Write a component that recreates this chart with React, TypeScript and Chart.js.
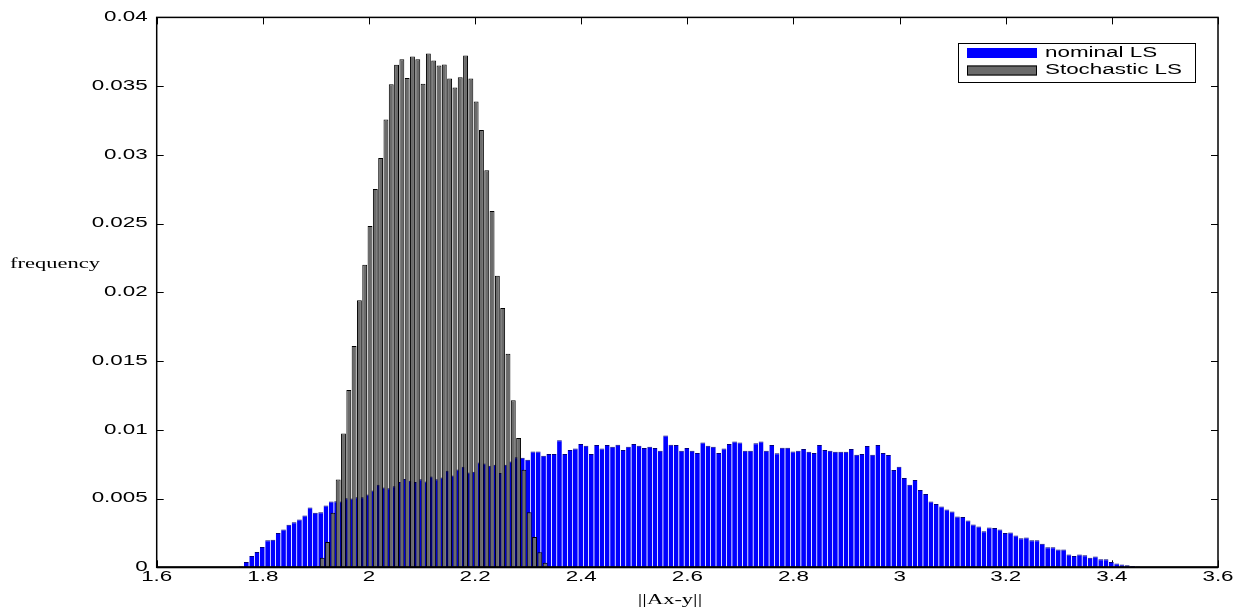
import React, { useEffect, useRef } from "react";
import { Chart, registerables } from "chart.js";

Chart.register(...registerables);

// ---- data -------------------------------------------------------------
const BIN_WIDTH = 0.01;
const NOMINAL_FIRST_BIN = 1.759;
const STOCHASTIC_FIRST_BIN = 1.902;

const NOMINAL_LS = [
  0.00005, 0.00038, 0.00082, 0.00111, 0.00147, 0.00196, 0.002, 0.00249, 0.00275, 0.00309,
  0.00328, 0.00348, 0.00377, 0.00435, 0.00396, 0.004, 0.00449, 0.00478, 0.0048, 0.00478,
  0.00502, 0.005, 0.0051, 0.0051, 0.0053, 0.00558, 0.00601, 0.0058, 0.00575, 0.0059,
  0.0062, 0.00642, 0.0063, 0.0062, 0.0064, 0.00625, 0.0066, 0.0064, 0.00654, 0.00703,
  0.00667, 0.00712, 0.00732, 0.0069, 0.00695, 0.00763, 0.00755, 0.00739, 0.00746, 0.00686,
  0.00746, 0.0077, 0.008, 0.00797, 0.00783, 0.00843, 0.00843, 0.00812, 0.00824, 0.00824,
  0.00925, 0.00824, 0.00853, 0.00865, 0.00896, 0.00884, 0.00824, 0.00889, 0.00865, 0.00889,
  0.00877, 0.00891, 0.00853, 0.00877, 0.00896, 0.00884, 0.00867, 0.00877, 0.00867, 0.00848,
  0.00959, 0.00891, 0.00889, 0.00848, 0.00867, 0.00848, 0.00831, 0.00908, 0.00884, 0.00877,
  0.00831, 0.00865, 0.00896, 0.00915, 0.00908, 0.00848, 0.00848, 0.00903, 0.00915, 0.00848,
  0.00889, 0.00829, 0.00869, 0.00869, 0.00843, 0.00848, 0.0086, 0.0084, 0.00832, 0.00889,
  0.00853, 0.00848, 0.0084, 0.0084, 0.0084, 0.0086, 0.00819, 0.00824, 0.00882, 0.00819,
  0.00889, 0.00831, 0.00817, 0.00708, 0.00732, 0.0065, 0.00601, 0.00635, 0.00563, 0.00534,
  0.00478, 0.00461, 0.00442, 0.0042, 0.00406, 0.0037, 0.00365, 0.00341, 0.00312, 0.00297,
  0.00263, 0.0029, 0.00285, 0.00275, 0.00249, 0.00253, 0.00232, 0.00212, 0.00217, 0.00196,
  0.00196, 0.00172, 0.00145, 0.00145, 0.0013, 0.0013, 0.00094, 0.00082, 0.00094, 0.00087,
  0.0007, 0.00079, 0.00058, 0.00058, 0.00038, 0.00027, 0.0002, 0.00015, 0.0001, 0.00005,
];

const STOCHASTIC_LS = [
  0.0001, 0.0007, 0.00184, 0.00396, 0.00638, 0.00974, 0.0129, 0.01609, 0.01942, 0.022,
  0.02483, 0.02751, 0.02978, 0.03258, 0.03514, 0.03655, 0.03696, 0.0356, 0.03715, 0.03696,
  0.03517, 0.03737, 0.03686, 0.0365, 0.03657, 0.03556, 0.0349, 0.03565, 0.03722, 0.03556,
  0.03389, 0.03181, 0.02889, 0.02592, 0.02121, 0.01886, 0.01553, 0.01215, 0.0094, 0.0071,
  0.004, 0.0022, 0.0011, 0.00034,
];

const SERIES_LABELS = ["nominal LS", "Stochastic LS"];
const X_TICKS = [1.6, 1.8, 2, 2.2, 2.4, 2.6, 2.8, 3, 3.2, 3.4, 3.6];
const X_TICK_LABELS = ["1.6", "1.8", "2", "2.2", "2.4", "2.6", "2.8", "3", "3.2", "3.4", "3.6"];
const Y_TICKS = [0, 0.005, 0.01, 0.015, 0.02, 0.025, 0.03, 0.035, 0.04];
const Y_TICK_LABELS = ["0", "0.005", "0.01", "0.015", "0.02", "0.025", "0.03", "0.035", "0.04"];
const X_TITLE = "||Ax-y||";
const Y_TITLE = "frequency";

// ---- styling ----------------------------------------------------------
const SANS = '"Liberation Sans", Arial, Helvetica, sans-serif';
const SERIF = '"Liberation Serif", "Times New Roman", serif';
const BLUE = "#0000ff";
const GRAY = "#6b6b6b";
const SANS_STRETCH = 1.6;
const SERIF_STRETCH = 1.5;

// The reference figure's text is horizontally stretched: widen every glyph run.
function patchStretchedText(ctx: any) {
  if (ctx.__stretchPatched) return;
  const orig = ctx.fillText;
  ctx.fillText = function (text: string, x: number, y: number, maxWidth?: number) {
    const sx = this.__sx || SANS_STRETCH;
    this.save();
    this.translate(x, y);
    this.scale(sx, 1);
    if (maxWidth !== undefined && maxWidth !== null) orig.call(this, text, 0, 0, maxWidth / sx);
    else orig.call(this, text, 0, 0);
    this.restore();
  };
  ctx.__stretchPatched = true;
}

const matlabPlugin = {
  id: "matlabLook",
  beforeDraw(chart: any) {
    patchStretchedText(chart.ctx);
    chart.ctx.__sx = SANS_STRETCH;
  },
  beforeDatasetsDraw(chart: any) {
    const { ctx, chartArea: a, scales } = chart;
    const TL = 7;
    ctx.save();
    ctx.strokeStyle = "#000";
    ctx.lineWidth = 1;
    ctx.beginPath();
    X_TICKS.forEach((v) => {
      const px = Math.round(scales.x.getPixelForValue(v)) + 0.5;
      ctx.moveTo(px, a.bottom);
      ctx.lineTo(px, a.bottom - TL);
      ctx.moveTo(px, a.top);
      ctx.lineTo(px, a.top + TL);
    });
    Y_TICKS.forEach((v) => {
      const py = Math.round(scales.y.getPixelForValue(v)) + 0.5;
      ctx.moveTo(a.left, py);
      ctx.lineTo(a.left + TL, py);
      ctx.moveTo(a.right, py);
      ctx.lineTo(a.right - TL, py);
    });
    ctx.stroke();
    ctx.restore();
  },
  afterDraw(chart: any) {
    const { ctx, chartArea: a } = chart;
    ctx.save();
    // axes box
    ctx.strokeStyle = "#000";
    ctx.lineWidth = 1.5;
    ctx.strokeRect(a.left, a.top, a.right - a.left, a.bottom - a.top);
    ctx.lineWidth = 2;
    ctx.beginPath();
    ctx.moveTo(a.left, a.bottom);
    ctx.lineTo(a.right, a.bottom);
    ctx.stroke();

    // axis titles
    ctx.fillStyle = "#000";
    ctx.font = `15px ${SERIF}`;
    ctx.__sx = SERIF_STRETCH;
    ctx.textAlign = "center";
    ctx.textBaseline = "middle";
    ctx.fillText(X_TITLE, 670, 600);
    ctx.textAlign = "left";
    ctx.fillText(Y_TITLE, 10, 264);

    // legend
    const lx = 958, ly = 43, lw = 237, lh = 39;
    ctx.fillStyle = "#fff";
    ctx.fillRect(lx, ly, lw, lh);
    ctx.lineWidth = 1;
    ctx.strokeStyle = "#000";
    ctx.strokeRect(lx + 0.5, ly + 0.5, lw, lh);
    const rows = [53, 70.5];
    ctx.__sx = SANS_STRETCH;
    chart.data.datasets.forEach((ds: any, i: number) => {
      const cy = rows[i];
      ctx.fillStyle = ds.backgroundColor;
      ctx.fillRect(967, cy - 5, 70, 10);
      if (i === 1) {
        ctx.strokeStyle = "#000";
        ctx.lineWidth = 1;
        ctx.strokeRect(967.5, cy - 4.5, 69, 9);
      }
      ctx.fillStyle = "#000";
      ctx.font = `14px ${SANS}`;
      ctx.textAlign = "left";
      ctx.textBaseline = "middle";
      ctx.fillText(ds.label, 1045, cy);
    });
    ctx.restore();
    ctx.__sx = SANS_STRETCH;
  },
};

export default function App() {
  const canvasRef = useRef<HTMLCanvasElement | null>(null);

  useEffect(() => {
    document.body.style.margin = "0";
    const canvas = canvasRef.current;
    if (!canvas) return;

    const nominal = NOMINAL_LS.map((y, i) => ({ x: NOMINAL_FIRST_BIN + i * BIN_WIDTH, y }));
    const stochastic = STOCHASTIC_LS.map((y, i) => ({ x: STOCHASTIC_FIRST_BIN + i * BIN_WIDTH, y }));

    const tickFont = { family: SANS, size: 14 };

    const chart = new Chart(canvas, {
      type: "bar",
      data: {
        datasets: [
          {
            label: SERIES_LABELS[0],
            data: nominal as any,
            xAxisID: "x",
            yAxisID: "y",
            backgroundColor: BLUE,
            borderColor: "#00007a",
            borderWidth: { top: 1, left: 0, right: 0, bottom: 0 },
            barPercentage: 0.9,
            categoryPercentage: 1,
            grouped: false,
            order: 1,
          },
          {
            label: SERIES_LABELS[1],
            data: stochastic as any,
            xAxisID: "x2",
            yAxisID: "y",
            backgroundColor: GRAY,
            borderColor: "#000",
            borderWidth: { top: 1, left: 1, right: 1, bottom: 0 },
            barPercentage: 0.92,
            categoryPercentage: 1,
            grouped: false,
            order: 0,
          },
        ],
      },
      options: {
        responsive: false,
        animation: false,
        layout: { padding: { left: 0, top: 15, right: 20, bottom: 0 } },
        plugins: { legend: { display: false }, tooltip: { enabled: false } },
        scales: {
          x: {
            type: "linear",
            position: "bottom",
            min: 1.6,
            max: 3.6,
            offset: false,
            grid: { display: false, drawTicks: false, offset: false },
            border: { display: false },
            afterBuildTicks: (s: any) => {
              s.ticks = X_TICKS.map((v) => ({ value: v }));
            },
            ticks: {
              autoSkip: false,
              maxRotation: 0,
              padding: 1,
              color: "#000",
              font: tickFont,
              callback: (_v: any, i: number) => X_TICK_LABELS[i],
            },
            afterFit: (s: any) => {
              s.height = 41.7;
            },
          },
          x2: {
            type: "linear",
            position: "bottom",
            min: 1.6,
            max: 3.6,
            offset: false,
            display: false,
            grid: { display: false, offset: false },
          },
          y: {
            type: "linear",
            min: 0,
            max: 0.04,
            stacked: false,
            grid: { display: false, drawTicks: false },
            border: { display: false },
            afterBuildTicks: (s: any) => {
              s.ticks = Y_TICKS.map((v) => ({ value: v }));
            },
            ticks: {
              padding: 9,
              color: "#000",
              font: tickFont,
              callback: (_v: any, i: number) => Y_TICK_LABELS[i],
            },
            afterFit: (s: any) => {
              s.width = 156.7;
            },
          },
        },
      } as any,
      plugins: [matlabPlugin],
    });

    return () => chart.destroy();
  }, []);

  return (
    <div style={{ width: 1238, height: 609, position: "relative", background: "#fff" }}>
      <canvas ref={canvasRef} width={1238} height={609} />
    </div>
  );
}
